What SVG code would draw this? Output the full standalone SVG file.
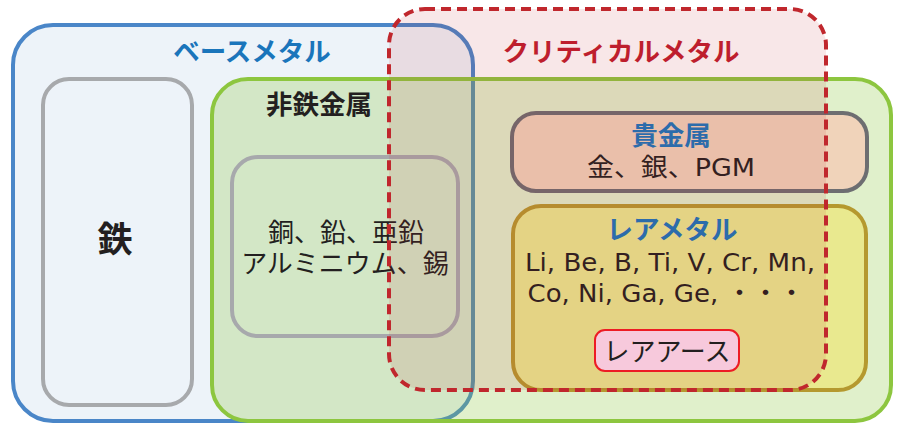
<svg xmlns="http://www.w3.org/2000/svg" width="898" height="426" viewBox="0 0 898 426">
<style>
text{font-family:"Noto Sans CJK JP","Noto Sans",sans-serif;text-anchor:middle}
.t{font-size:26.5px;font-weight:700}
.b{font-size:26px;font-weight:400;fill:#231f20}
.l{font-family:"DejaVu Sans","Noto Sans CJK JP",sans-serif;font-size:25px;font-weight:400;fill:#231f20}
.blue{fill:#1a75bb}
.gray{fill:none;stroke:#a7a9ac;stroke-width:4}
</style>
<rect width="898" height="426" fill="#ffffff"/>
<g id="base-metal">
<rect x="13" y="25" width="460" height="396" rx="40" fill="#4a86c8" fill-opacity="0.1" stroke="#4a86c8" stroke-width="4"/>
<text class="t blue" x="252" y="61">ベースメタル</text>
</g>
<g id="nonferrous">
<rect x="212" y="79" width="679" height="342" rx="36" fill="#8dc63f" fill-opacity="0.27" stroke="#8dc63f" stroke-width="4"/>
<text class="t" x="319" y="114" fill="#231f20">非鉄金属</text>
</g>
<g id="iron">
<rect class="gray" x="43" y="79" width="149" height="326" rx="26"/>
<text x="115" y="252" font-size="35" font-weight="700" fill="#231f20">鉄</text>
</g>
<g id="common-nonferrous">
<rect class="gray" x="232" y="157" width="226" height="179" rx="26"/>
<text class="b" x="346" y="242">銅、鉛、亜鉛</text>
<text class="b" x="345" y="273">アルミニウム、錫</text>
</g>
<g id="precious">
<rect x="512" y="113" width="355" height="78" rx="24" fill="#f0d3ba" stroke="#6d6e71" stroke-width="4"/>
<text class="t blue" x="671" y="145">貴金属</text>
<text class="l" x="671" y="176" textLength="168" lengthAdjust="spacingAndGlyphs">金、銀、PGM</text>
</g>
<g id="rare-metal">
<rect x="513" y="206" width="353" height="184" rx="28" fill="#e9e98f" stroke="#b5992f" stroke-width="4"/>
<text class="t blue" x="672" y="239">レアメタル</text>
<text class="l" x="670" y="271" textLength="290" lengthAdjust="spacingAndGlyphs">Li, Be, B, Ti, V, Cr, Mn,</text>
<text class="l" x="666" y="302" textLength="277" lengthAdjust="spacingAndGlyphs">Co, Ni, Ga, Ge, ・・・</text>
</g>
<g id="critical">
<rect x="389" y="9" width="437" height="381" rx="36" fill="#c0272d" fill-opacity="0.11" stroke="#c0272d" stroke-width="4" stroke-dasharray="10 6"/>
<text class="t" x="621" y="61" fill="#be1e2d">クリティカルメタル</text>
</g>
<g id="rare-earth">
<rect x="595" y="330" width="144" height="41" rx="10" fill="#f7c9dc" stroke="#ed1c24" stroke-width="2"/>
<text class="b" x="667" y="361" font-size="25">レアアース</text>
</g>
<g id="connectors"></g>
</svg>
